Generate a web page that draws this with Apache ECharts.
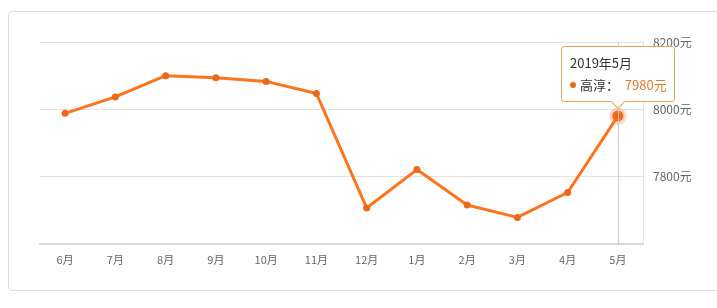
<!DOCTYPE html>
<html>
<head>
<meta charset="utf-8">
<script src="https://cdn.jsdelivr.net/npm/echarts@6/dist/echarts.min.js"></script>
<style>
  html, body { margin: 0; padding: 0; background: #fff; }
  #wrap { position: relative; width: 717px; height: 308px; overflow: hidden; }
  #frame { position: absolute; left: 8px; top: 11px; width: 730px; height: 280px;
           border: 1px solid #dcdcdc; border-radius: 4px; box-sizing: border-box; }
  #chart { position: absolute; left: 0; top: 0; width: 717px; height: 308px; }
  .tip-arrow { position: absolute; left: 50%; bottom: -6px; width: 9px; height: 9px;
               margin-left: -5px; background: #fff; border-right: 1px solid #eaa461;
               border-bottom: 1px solid #eaa461; transform: rotate(45deg); }
</style>
</head>
<body>
<div id="wrap">
  <div id="frame"></div>
  <div id="chart"></div>
</div>
<script>
// ---- data ----
var categories = ['6月', '7月', '8月', '9月', '10月', '11月', '12月', '1月', '2月', '3月', '4月', '5月'];
var periods = ['2018年6月', '2018年7月', '2018年8月', '2018年9月', '2018年10月', '2018年11月',
               '2018年12月', '2019年1月', '2019年2月', '2019年3月', '2019年4月', '2019年5月'];
var seriesName = '高淳';
var prices = [7988, 8037, 8100, 8094, 8083, 8047, 7707, 7821, 7716, 7679, 7753, 7980];
var unit = '元';
var yMin = 7600, yMax = 8200, yStep = 200;

var lineColor = '#e8691a';
var font = '"Microsoft YaHei", "Noto Sans CJK SC", sans-serif';

var chart = echarts.init(document.getElementById('chart'), null, { renderer: 'canvas' });
chart.setOption({
  animation: false,
  grid: { left: 40, right: 74, top: 42, bottom: 64 },
  tooltip: {
    trigger: 'axis',
    alwaysShowContent: true,
    transitionDuration: 0,
    backgroundColor: '#fff',
    borderColor: '#eaa461',
    borderWidth: 1,
    padding: [5, 7, 5, 8],
    extraCssText: 'border-radius:3px;box-shadow:none;overflow:visible;',
    axisPointer: { type: 'line', lineStyle: { color: '#cfcfcf', width: 1, type: 'solid' } },
    position: function (pt, params, dom, rect, size) {
      var w = size.contentSize[0], h = size.contentSize[1];
      var p = chart.convertToPixel({ seriesIndex: 0 }, [params[0].dataIndex, params[0].value]);
      return [p[0] - w / 2, p[1] - h - 14];
    },
    formatter: function (params) {
      var p = params[0];
      return '<div style="font-family:' + font.replace(/"/g, "'") + ';font-size:13px;color:#333;line-height:22px;">' +
        '<div>' + periods[p.dataIndex] + '</div>' +
        '<div><span style="display:inline-block;width:6px;height:6px;border-radius:3px;background:' + lineColor +
        ';margin-right:4px;vertical-align:middle;position:relative;top:-1px;"></span>' +
        p.seriesName + '：&nbsp;&nbsp;<span style="color:#de7b2f;font-size:13px;">' + p.value + unit + '</span></div>' +
        '</div><div class="tip-arrow"></div>';
    }
  },
  xAxis: {
    type: 'category',
    data: categories,
    boundaryGap: true,
    axisLine: { lineStyle: { color: '#d4d4d4', width: 2 } },
    axisTick: { alignWithLabel: true, length: 3, lineStyle: { color: '#e0e0e0' } },
    axisLabel: { color: '#666', fontSize: 11, margin: 10, fontFamily: font }
  },
  yAxis: {
    type: 'value',
    position: 'right',
    min: yMin, max: yMax, interval: yStep,
    axisLine: { show: true, lineStyle: { color: '#e2e2e2', width: 1 } },
    axisTick: { show: false },
    splitLine: { lineStyle: { color: '#e2e2e2', width: 1 } },
    axisLabel: {
      showMinLabel: false, color: '#666', fontSize: 12, margin: 10, fontFamily: font,
      formatter: function (v) { return v + unit; }
    }
  },
  series: [{
    name: seriesName,
    type: 'line',
    data: prices,
    symbol: 'circle',
    symbolSize: 7,
    showAllSymbol: true,
    lineStyle: { color: lineColor, width: 3 },
    itemStyle: { color: lineColor },
    emphasis: {
      scale: 1.6,
      itemStyle: { color: '#f05f0c', borderColor: 'rgba(240,140,70,0.35)', borderWidth: 6 }
    }
  }]
});
chart.dispatchAction({ type: 'showTip', seriesIndex: 0, dataIndex: prices.length - 1 });
</script>
</body>
</html>
